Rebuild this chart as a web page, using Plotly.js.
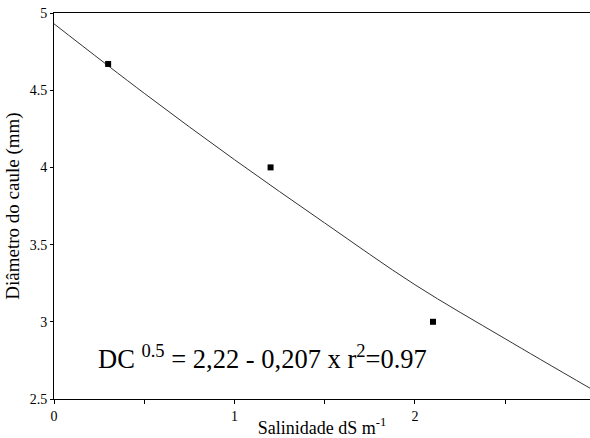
<!DOCTYPE html>
<html><head><meta charset="utf-8">
<script src="https://cdn.plot.ly/plotly-3.0.1.min.js"></script>
<style>html,body{margin:0;padding:0;background:#fff}#chart{width:590px;height:438px}</style>
</head><body><div id="chart"></div>
<script>
// Observed points
var salinity = [0.3, 1.2, 2.1];
var diameter = [4.67, 4.0, 3.0];
// Fitted curve
var fitX = [0, 0.5, 1, 1.5, 2, 2.5, 2.97];
var fitY = [4.93, 4.48, 4.05, 3.64, 3.24, 2.89, 2.57];
var xTickVals = [0, 1, 2];
var xTickText = ['0', '1', '2'];
var yTickVals = [2.5, 3, 3.5, 4, 4.5, 5];
var yTickText = ['2.5', '3', '3.5', '4', '4.5', '5'];

var font = 'Liberation Serif, Times New Roman, serif';
var data = [
  {x: fitX, y: fitY, mode: 'lines', line: {color: '#333', width: 1, shape: 'spline'}, hoverinfo: 'skip'},
  {x: salinity, y: diameter, mode: 'markers', marker: {symbol: 'square', size: 6, color: '#000'}}
];
var layout = {
  width: 590, height: 438,
  margin: {l: 54, r: 0, t: 13, b: 39},
  showlegend: false,
  paper_bgcolor: '#fff', plot_bgcolor: '#fff',
  font: {family: font, color: '#000', size: 14},
  xaxis: {
    range: [0, 2.97], showgrid: false, zeroline: false,
    showline: true, linecolor: '#000', linewidth: 1, mirror: true,
    ticks: 'outside', ticklen: 4, tickcolor: '#000',
    tickvals: xTickVals, ticktext: xTickText,
    minor: {dtick: 0.5, tick0: 0, ticks: 'outside', ticklen: 4, tickcolor: '#000', showgrid: false},
    tickfont: {family: font, size: 14},
    title: {text: 'Salinidade dS m<sup>-1</sup>', font: {family: font, size: 18}, standoff: 3}
  },
  yaxis: {
    range: [2.5, 5], showgrid: false, zeroline: false,
    showline: true, linecolor: '#000', linewidth: 1,
    ticks: 'outside', ticklen: 3, tickcolor: '#000',
    tickvals: yTickVals, ticktext: yTickText,
    tickfont: {family: font, size: 14},
    title: {text: 'Diâmetro do caule (mm)', font: {family: font, size: 19}, standoff: 5}
  },
  annotations: [{
    x: 0.235, y: 2.77, xref: 'x', yref: 'y', xanchor: 'left', yanchor: 'middle',
    showarrow: false,
    text: 'DC <sup>0.5</sup> = 2,22 - 0,207 x r<sup>2</sup>=0.97',
    font: {family: font, size: 26.5, color: '#000'}
  }]
};
Plotly.newPlot('chart', data, layout, {displayModeBar: false, staticPlot: true});
</script></body></html>
